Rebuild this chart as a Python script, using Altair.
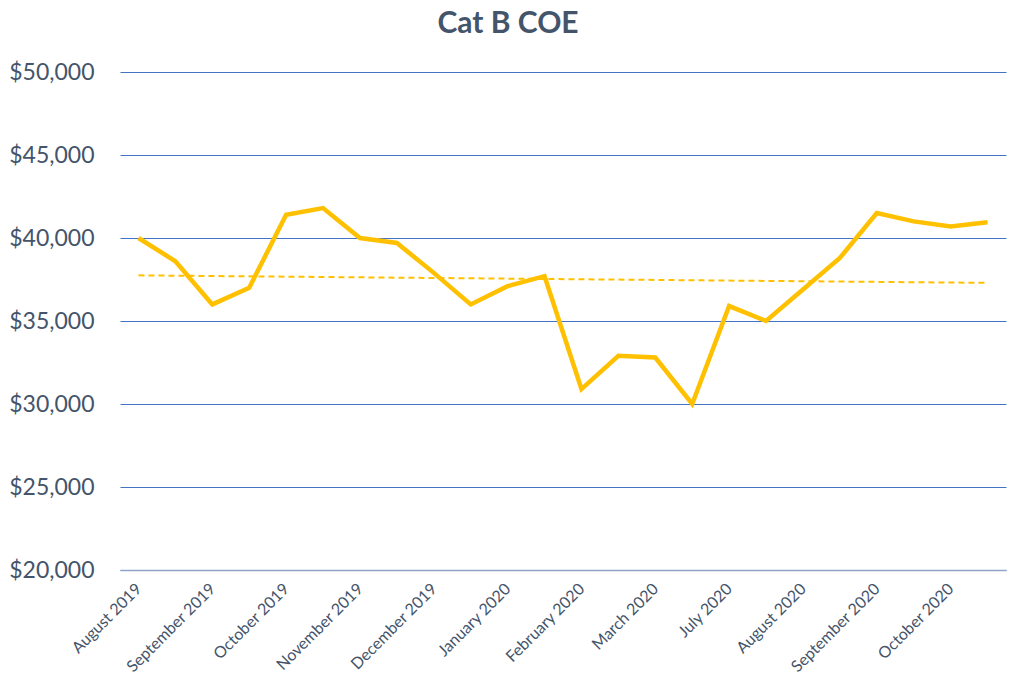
import json
import altair as alt
import pandas as pd

# Two bidding rounds per month (no bidding April-June 2020)
months = [
    "August 2019", "September 2019", "October 2019", "November 2019",
    "December 2019", "January 2020", "February 2020", "March 2020",
    "July 2020", "August 2020", "September 2020", "October 2020",
]
rounds = [m for m in months for _ in range(2)]

# Cat B COE premium per bidding round (S$)
premium = [
    40000, 38600, 36000, 37000, 41400, 41800, 40000, 39700,
    37900, 36000, 37100, 37700, 30900, 32900, 32800, 30000,
    35900, 35000, 36900, 38800, 41500, 41000, 40700, 40950,
]

df = pd.DataFrame({
    "idx": list(range(len(premium))),
    "round": rounds,
    "premium": premium,
})

TEXT = "#44546A"
GOLD = "#FFC000"

label_expr = f"{json.dumps(rounds)}[datum.value]"

x = alt.X(
    "idx:Q",
    scale=alt.Scale(domain=[-0.5, len(premium) - 0.5], nice=False, zero=False),
    axis=alt.Axis(
        title=None,
        values=list(range(0, len(premium), 2)),
        labelExpr=label_expr,
        labelAngle=-45,
        labelAlign="right",
        labelBaseline="middle",
        labelPadding=16,
        labelOverlap=False,
        labelFont="Lato",
        labelFontSize=16,
        labelColor=TEXT,
        ticks=False,
        grid=False,
        domainColor="#8EA4C8",
        domainWidth=1.5,
    ),
)
y = alt.Y(
    "premium:Q",
    scale=alt.Scale(domain=[20000, 50000], nice=False, zero=False),
    axis=alt.Axis(
        title=None,
        values=[20000, 25000, 30000, 35000, 40000, 45000, 50000],
        format="$,.0f",
        labelFont="Lato",
        labelFontSize=23,
        labelColor=TEXT,
        labelPadding=26,
        ticks=False,
        domain=False,
        gridColor="#4472C4",
        gridWidth=1,
    ),
)

base = alt.Chart(df)

line = base.mark_line(color=GOLD, strokeWidth=4.5, strokeJoin="miter").encode(x=x, y=y)

trend = (
    base.transform_regression("idx", "premium")
    .mark_line(color=GOLD, strokeWidth=2, strokeDash=[6, 4])
    .encode(x=x, y=y)
)

chart = (
    alt.layer(trend, line)
    .properties(
        width=886,
        height=498,
        background="white",
        autosize=alt.AutoSizeParams(type="none"),
        padding={"left": 120, "top": 72, "right": 18, "bottom": 113},
        title=alt.TitleParams(
            "Cat B COE",
            font="Lato",
            fontSize=30,
            fontWeight="bold",
            color=TEXT,
            anchor="middle",
            frame="group",
            dx=-55,
            offset=22,
        ),
    )
    .configure_view(stroke="transparent", strokeWidth=0)
)

chart.save("out.html", embed_options={"renderer": "svg", "actions": False})
